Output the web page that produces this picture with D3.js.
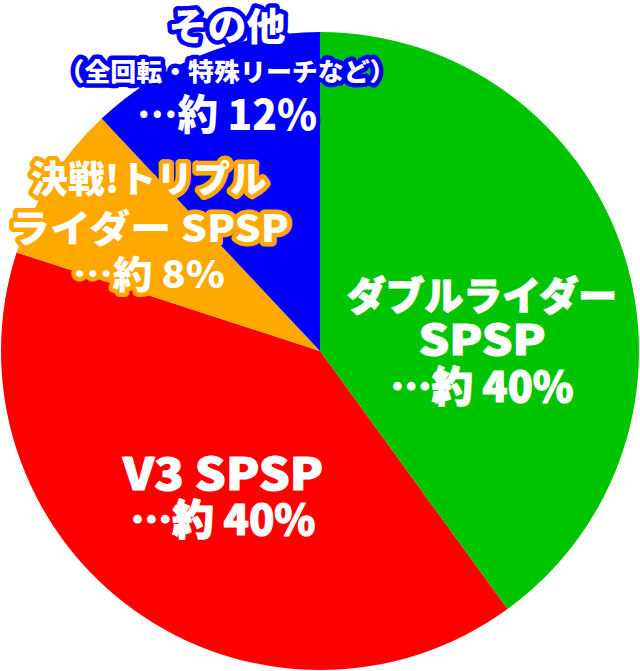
<!DOCTYPE html>
<html>
<head>
<meta charset="utf-8">
<script src="https://cdn.jsdelivr.net/npm/d3@7"></script>
<style>
	html, body { margin: 0; padding: 0; background: #fff; }
	svg { display: block; }
	.lbl { font-family: "Noto Sans CJK JP", "Noto Sans", sans-serif; font-weight: 900; fill: #fff; text-anchor: middle; stroke-linejoin: round; paint-order: stroke; }
</style>
</head>
<body>
<div id="chart"></div>
<script>
document.addEventListener("DOMContentLoaded", main);

// slice data, clockwise from 12 o'clock
var categories = ["ダブルライダーSPSP", "V3 SPSP", "決戦!トリプルライダーSPSP", "その他"];
var shares = [40, 40, 8, 12];
var colors = ["#00c400", "#ff0000", "#ffa800", "#0000f8"];
var labelLines = [
	["ダブルライダー", "SPSP", "…約 40%"],
	["V3 SPSP", "…約 40%"],
	["決戦!トリプル", "ライダー SPSP", "…約 8%"],
	["その他", "（全回転・特殊リーチなど）", "…約 12%"]
];

// label placement, one entry per slice
var labelLayout = [
	{ x: 482, ys: [310, 355, 402], sizes: [39, 42, 42], widths: [270, 127, 183], halo: false },
	{ x: 223, ys: [490, 535], sizes: [44, 42], widths: [200, 185], halo: false },
	{ x: 149, ys: [193, 242, 288], sizes: [37, 38, 38], widths: [236, 280, 152], halo: true },
	{ x: 227, ys: [40, 81, 130], sizes: [38, 25, 42], widths: [117, 337, 180], halo: true }
];

var canvas = {};

function addCanvas(cont) {
	canvas.svg = d3.select(cont).append("svg")
		.attr("width", 640)
		.attr("height", 671);
	canvas.g = canvas.svg.append("g")
		.attr("transform", "translate(320,351)");
}

function drawPie() {
	var pie = d3.pie()
		.sort(null)
		.value((d) => d);

	var arc = d3.arc()
		.innerRadius(0)
		.outerRadius(319);

	canvas.g.selectAll(".slice")
		.data(pie(shares))
		.enter()
		.append("path")
		.attr("class", "slice")
		.attr("d", arc)
		.attr("fill", (d, i) => colors[i]);
}

function drawLabels() {
	var grp = canvas.svg.selectAll(".label")
		.data(categories)
		.enter()
		.append("g")
		.attr("class", "label");

	grp.each(function (c, i) {
		var lay = labelLayout[i];
		var g = d3.select(this);
		labelLines[i].forEach((t, j) => {
			var txt = g.append("text")
				.attr("class", "lbl")
				.attr("x", lay.x)
				.attr("y", lay.ys[j])
				.attr("font-size", lay.sizes[j])
				.attr("textLength", lay.widths[j])
				.attr("lengthAdjust", "spacingAndGlyphs")
				.text(t);
			// outlined labels get a halo in the slice colour, the rest a thin white stroke for weight
			if (lay.halo) {
				txt.attr("stroke", colors[i]).attr("stroke-width", 9);
			} else {
				txt.attr("stroke", "#fff").attr("stroke-width", 1.2);
			}
		});
	});
}

function main() {
	addCanvas("#chart");
	drawPie();
	drawLabels();
}
</script>
</body>
</html>
